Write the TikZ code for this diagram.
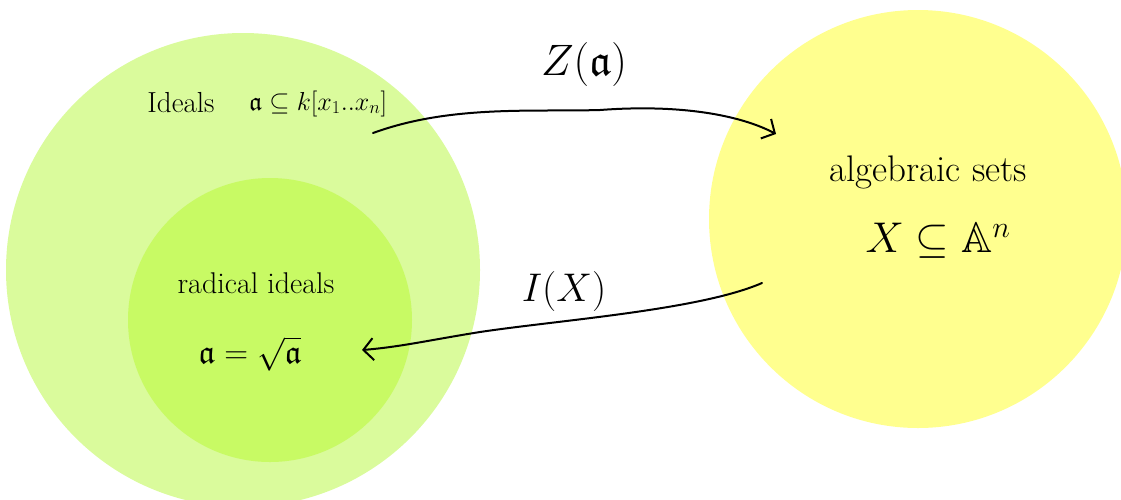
\RequirePackage{fix-cm}
\documentclass[tikz,border=0pt]{standalone}
\usepackage{amssymb}
\usetikzlibrary{arrows.meta}
\definecolor{idealgreen}{HTML}{DAFB9C}
\definecolor{radgreen}{HTML}{C8FA64}
\definecolor{setyellow}{HTML}{FFFF8F}
\newcommand{\fs}[1]{\fontsize{#1}{#1}\selectfont}
\tikzset{
  region/.style={circle, draw=none, inner sep=0pt},
  lbl/.style={inner sep=1pt},
  maparrow/.style={line width=2pt, line cap=round,
    -{Straight Barb[length=10pt, width=22pt, line width=2pt]}}
}
\begin{document}
\begin{tikzpicture}[x=1pt, y=-1pt]
  \useasboundingbox (0,0) rectangle (1121,499);
  \begin{scope}
    \clip (0,0) rectangle (1121,499);
    % the three regions
    \node[region, fill=idealgreen, minimum size=474pt] (ideals) at (243,270) {};
    \node[region, fill=radgreen, minimum size=284pt] (radical) at (270,320) {};
    \node[region, fill=setyellow, minimum size=418pt] (algsets) at (918,219) {};
  \end{scope}
  % labels inside the regions
  \node[lbl, font=\fs{29}, anchor=base] (idtxt) at (181,112) {Ideals};
  \node[lbl, font=\fs{26}, anchor=base west] (idset) at (248,110) {$\mathfrak{a}\subseteq k[x_1..x_n]$};
  \node[lbl, font=\fs{30}] (radtxt) at (256,283) {radical ideals};
  \node[lbl, font=\fs{33}] (radeq) at (250,354) {$\mathfrak{a}=\sqrt{\mathfrak{a}}$};
  \node[lbl, font=\fs{37}] (algtxt) at (928,172) {algebraic sets};
  \node[lbl, font=\fs{43}] (algset) at (938,241) {$X\subseteq\mathbb{A}^n$};
  % the two maps
  \node[lbl, font=\fs{44}] (zmap) at (584,64) {$Z(\mathfrak{a})$};
  \node[lbl, font=\fs{40}] (imap) at (564,291) {$I(X)$};
  \coordinate (zstart) at (373,133);
  \coordinate (zend) at (776,134);
  \coordinate (istart) at (762,283);
  \coordinate (iend) at (362,350);
  \draw[maparrow] (zstart) .. controls (450,105) and (530,112) .. (600,110)
                           .. controls (680,104) and (740,115) .. (zend);
  \draw[maparrow] (istart) .. controls (700,310) and (560,320) .. (480,332)
                           .. controls (430,340) and (400,347) .. (iend);
\end{tikzpicture}
\end{document}
